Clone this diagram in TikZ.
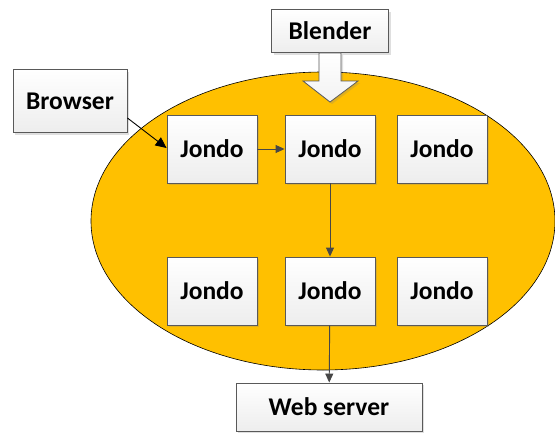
\documentclass[tikz,border=0pt]{standalone}
\usepackage{fontspec}
\setmainfont{Carlito}
\usetikzlibrary{shadows,arrows.meta,shapes.geometric}
\definecolor{gold}{HTML}{FFC000}
\definecolor{edge}{HTML}{595959}
\begin{document}
\begin{tikzpicture}[x=1pt,y=-1pt,
  box/.style={draw=edge, line width=0.9pt, top color=white, bottom color=gray!14,
    font=\bfseries\fontsize{25.5}{30}\selectfont, inner sep=0pt,
    drop shadow={shadow xshift=2pt, shadow yshift=-2pt, opacity=0.25, fill=gray}},
  jbox/.style={box, minimum width=90pt, minimum height=68pt},
  link/.style={draw=edge!80!black, line width=0.9pt, -{Triangle[length=9pt,width=8pt]}}]
\useasboundingbox (0,0) rectangle (555,434);
\node[draw=black, fill=gold, ellipse, line width=0.6pt, minimum width=464pt, minimum height=298pt] (cloud) at (323,221) {};
\node[box, minimum width=117pt, minimum height=43pt] (blender) at (330,31) {Blender};
\node[box, minimum width=114pt, minimum height=63pt] (browser) at (70,101) {Browser};
\node[jbox] (j1) at (212,149) {Jondo};
\node[jbox] (j2) at (330,149) {Jondo};
\node[jbox] (j3) at (442,149) {Jondo};
\node[jbox] (j4) at (212,291) {Jondo};
\node[jbox] (j5) at (330,291) {Jondo};
\node[jbox] (j6) at (442,291) {Jondo};
\node[box, minimum width=186pt, minimum height=48pt] (web) at (329,407) {Web server};
\coordinate (atip) at (330,102);
\draw[edge, line width=0.8pt, top color=white, bottom color=gray!10,
  drop shadow={shadow xshift=2pt, shadow yshift=-2pt, opacity=0.25, fill=gray}]
  (blender.south -| 319,0) -- (319,81) -- (303,81) -- (atip) -- (358,81) -- (341,81) -- (blender.south -| 341,0) -- cycle;
\draw[black, line width=0.9pt, -{Triangle[length=11pt,width=10pt]}] (browser.east |- 0,118) -- (j1.west |- 0,148);
\draw[link] (j1) -- (j2);
\draw[link] (j2) -- (j5);
\draw[link] (j5) -- (web);
\end{tikzpicture}
\end{document}
